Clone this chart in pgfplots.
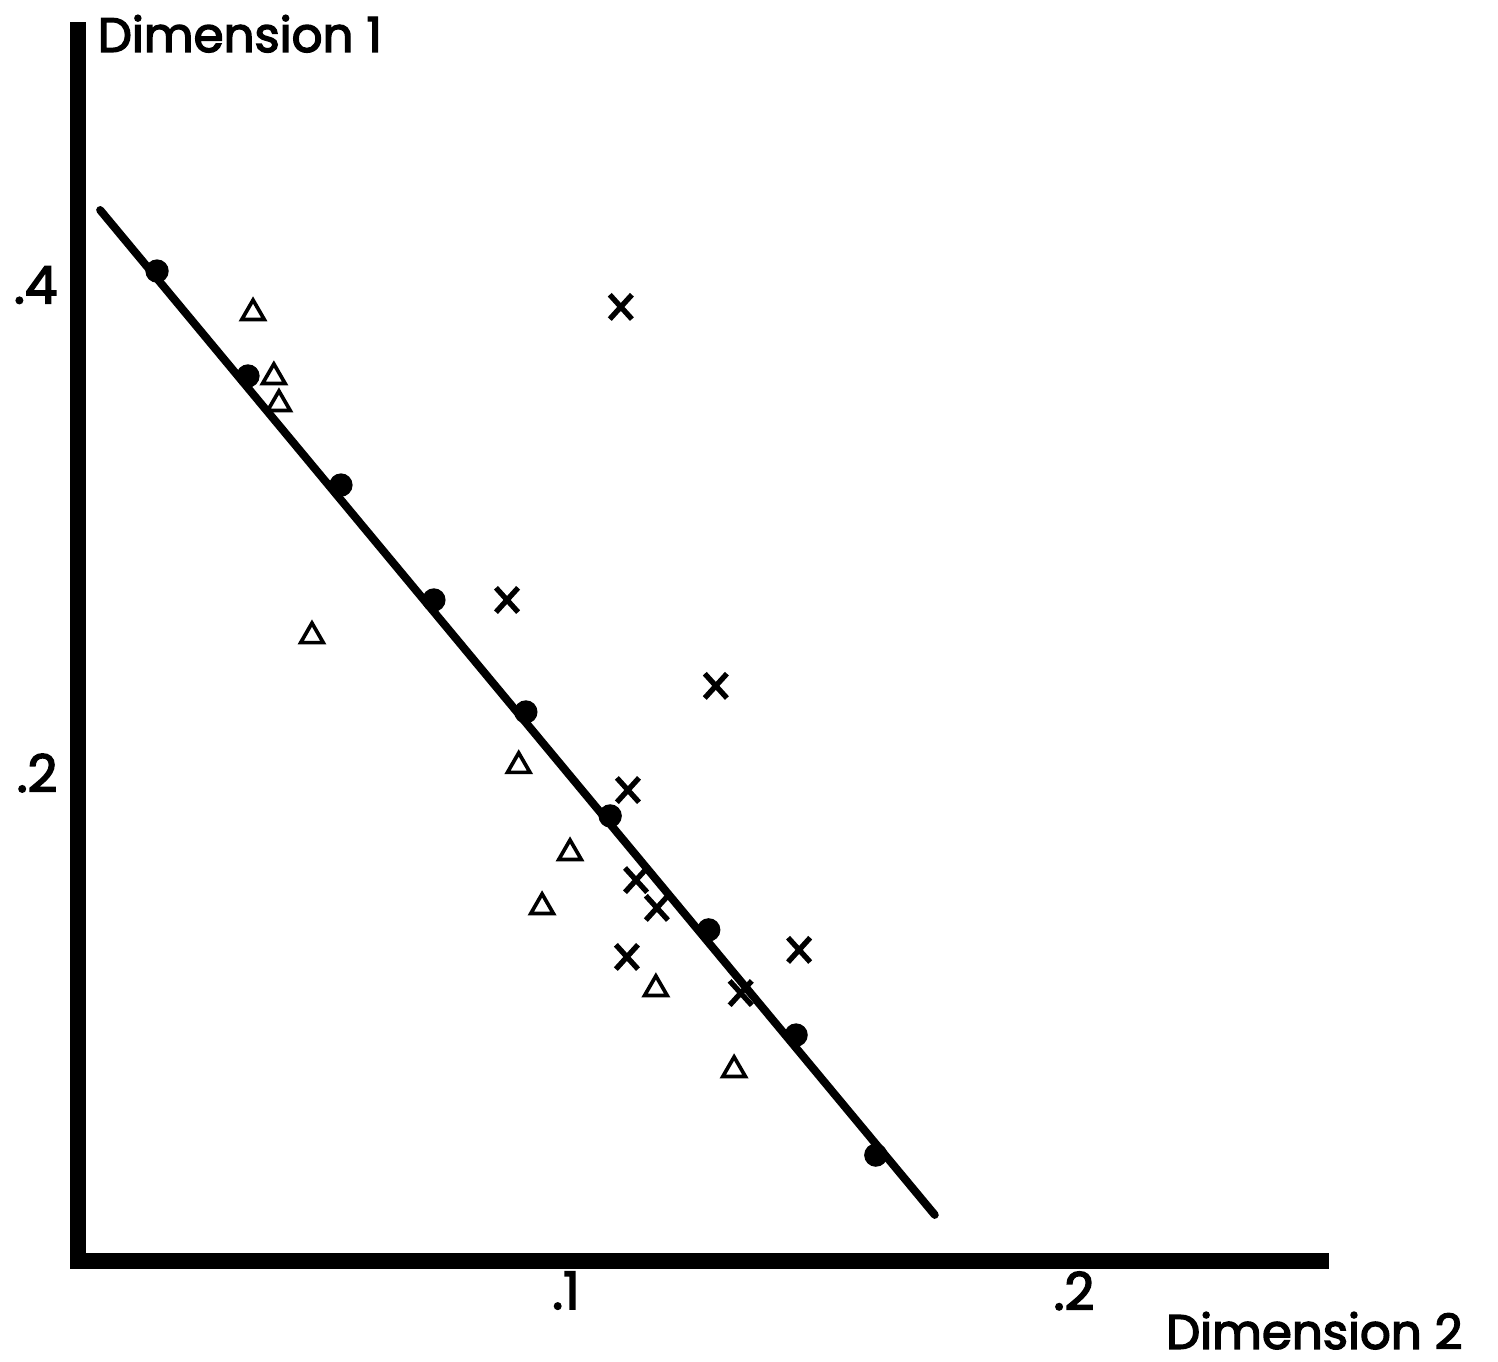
\documentclass[border=0pt]{standalone}
\usepackage{pgfplots}
\pgfplotsset{compat=1.18}
\usepackage{fontspec}
\setmainfont{Poppins}[FakeBold=3]
\begin{document}
\begin{tikzpicture}[font=\fontsize{14.5}{17}\selectfont]
\path[use as bounding box] (-23.4pt,-30.3pt) rectangle (426pt,378.3pt);
\begin{axis}[
  at={(0pt,0pt)}, anchor=south west,
  scale only axis, width=373pt, height=369.3pt,
  xmin=0.00394, xmax=0.2487, ymin=0, ymax=0.5045,
  axis lines=left,
  axis line style={-, line width=4.8pt, line cap=rect},
  major tick length=0pt,
  xtick={0.1,0.2}, xticklabels={.1,.2},
  ytick={0.2,0.4}, yticklabels={.2,.4},
  xticklabel style={inner sep=0pt, anchor=north, yshift=-3pt, font=\fontsize{15.5}{18}\selectfont},
  yticklabel style={inner sep=0pt, anchor=east, xshift=-6pt, font=\fontsize{15.5}{18}\selectfont},
  clip=false,
]
% regression line
\addplot[black, line width=2.4pt, line cap=round] coordinates {(0.0083,0.4307) (0.1726,0.0189)};
% filled circles
\addplot[only marks, mark=*, mark size=3.3pt, black] coordinates {
(0.0195,0.4057) (0.0374,0.3627) (0.0557,0.3180) (0.0740,0.2709)
(0.0921,0.2250) (0.1087,0.1824) (0.1281,0.1357) (0.1453,0.0926) (0.1610,0.0434)};
% open triangles
\addplot[only marks, mark=triangle, mark size=3.9pt, black, mark options={line width=1.1pt}] coordinates {
(0.0384,0.3885) (0.0425,0.3623) (0.0435,0.3512) (0.0500,0.2561)
(0.0907,0.2029) (0.1008,0.1672) (0.0953,0.1451) (0.1177,0.1115) (0.1331,0.0783)};
% crosses
\addplot[only marks, mark=x, mark size=4.7pt, black, mark options={line width=1.6pt, yscale=1.1}] coordinates {
(0.1108,0.3910) (0.0884,0.2709) (0.1295,0.2357) (0.1122,0.1930)
(0.1138,0.1561) (0.1179,0.1447) (0.1120,0.1246) (0.1459,0.1275) (0.1344,0.1098)};
\node[anchor=base west, inner sep=0pt] at (axis cs:0.0077,0.4955) {Dimension 1};
\node[anchor=base west, inner sep=0pt] at (axis cs:0.2180,-0.0360) {Dimension 2};
\end{axis}
\end{tikzpicture}
\end{document}
